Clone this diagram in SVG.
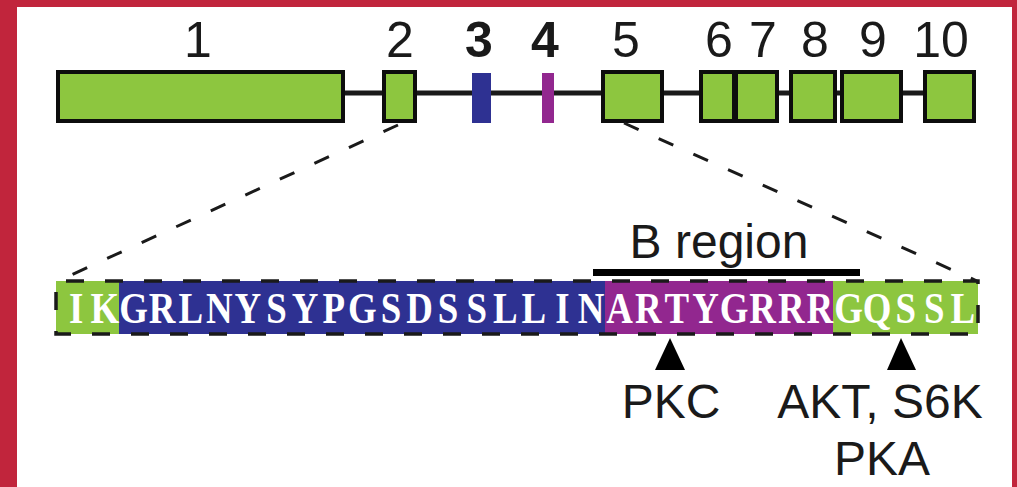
<svg xmlns="http://www.w3.org/2000/svg" width="1017" height="487" viewBox="0 0 1017 487">
  <style>
    .exon { fill: #8DC63F; stroke: #0d0d0d; stroke-width: 4; }
    .num { font-family: "Liberation Sans", Arial, sans-serif; font-size: 50px; fill: #1a1a1a; text-anchor: middle; }
    .bold { font-weight: bold; }
    .label { font-family: "Liberation Sans", Arial, sans-serif; font-size: 48px; fill: #1a1a1a; text-anchor: middle; }
    .seq { font-family: "Liberation Serif", "Times New Roman", serif; font-weight: bold; font-size: 45px; fill: #ffffff; text-anchor: middle; }
    .dash { stroke: #1a1a1a; stroke-width: 3; stroke-dasharray: 16 22; fill: none; }
    .site { fill: #000000; }
  </style>

  <!-- frame -->
  <rect x="0" y="0" width="1017" height="487" fill="#C1253C"/>
  <rect x="17" y="7" width="995" height="480" fill="#ffffff"/>

  <!-- gene model: intron backbone and exons -->
  <g id="gene">
    <line x1="345" y1="93" x2="925" y2="93" stroke="#1a1a1a" stroke-width="5"/>
    <g id="exon1"><rect class="exon" x="58" y="72" width="285" height="49"/><text class="num" x="198" y="57">1</text></g>
    <g id="exon2"><rect class="exon" x="384" y="72" width="31" height="49"/><text class="num" x="400" y="57">2</text></g>
    <g id="exon3"><rect x="472" y="73" width="19" height="50" fill="#2E3192"/><text class="num bold" x="479" y="57">3</text></g>
    <g id="exon4"><rect x="542" y="73" width="12" height="50" fill="#92278F"/><text class="num bold" x="545" y="57">4</text></g>
    <g id="exon5"><rect class="exon" x="603" y="72" width="59" height="49"/><text class="num" x="626" y="57">5</text></g>
    <g id="exon6"><rect class="exon" x="701" y="72" width="33" height="49"/><text class="num" x="719" y="57">6</text></g>
    <g id="exon7"><rect class="exon" x="736" y="72" width="41" height="49"/><text class="num" x="763" y="57">7</text></g>
    <g id="exon8"><rect class="exon" x="791" y="72" width="44" height="49"/><text class="num" x="815" y="57">8</text></g>
    <g id="exon9"><rect class="exon" x="842" y="72" width="59" height="49"/><text class="num" x="873" y="57">9</text></g>
    <g id="exon10"><rect class="exon" x="925" y="72" width="49" height="49"/><text class="num" x="941" y="57">10</text></g>
  </g>

  <!-- zoom-out connectors -->
  <g id="connectors">
    <line class="dash" x1="398" y1="125" x2="58" y2="281"/>
    <line class="dash" x1="624" y1="123" x2="977" y2="281"/>
  </g>

  <!-- peptide sequence strip -->
  <g id="sequence">
    <rect x="56" y="281" width="63" height="53" fill="#8DC63F"/>
    <rect x="119" y="281" width="486" height="53" fill="#2E3192"/>
    <rect x="605" y="281" width="228" height="53" fill="#92278F"/>
    <rect x="833" y="281" width="145" height="53" fill="#8DC63F"/>
    <rect x="56" y="281" width="922" height="53" fill="none" stroke="#1a1a1a" stroke-width="3.5" stroke-dasharray="18 21" stroke-dashoffset="-10"/>
    <!-- one residue per 28.6 px cell, glyphs narrowed to fit the cell -->
    <text class="seq" transform="scale(0.82 1)" y="323" x="93.0 127.9 162.8 197.7 232.6 267.4 302.3 337.2 372.1 406.9 441.8 476.7 511.6 546.5 581.3 616.2 651.1 686.0 720.9 755.7 790.6 825.5 860.4 895.2 930.1 965.0 999.9 1034.8 1069.6 1104.5 1139.4 1174.3">IKGRLNYSYPGSDSSLLINARTYGRRRGQSSL</text>
  </g>

  <!-- B region bracket -->
  <g id="bregion">
    <text class="label" x="719" y="258" font-size="46">B region</text>
    <rect x="593" y="269" width="267" height="7" fill="#000000"/>
  </g>

  <!-- phosphorylation sites -->
  <g id="site-pkc">
    <polygon class="site" points="670,338 655,370 685,370"/>
    <text class="label" x="671" y="418">PKC</text>
  </g>
  <g id="site-akt">
    <polygon class="site" points="901,338 887,370 916,370"/>
    <text class="label" x="880" y="418">AKT, S6K</text>
    <text class="label" x="882" y="475">PKA</text>
  </g>
</svg>
